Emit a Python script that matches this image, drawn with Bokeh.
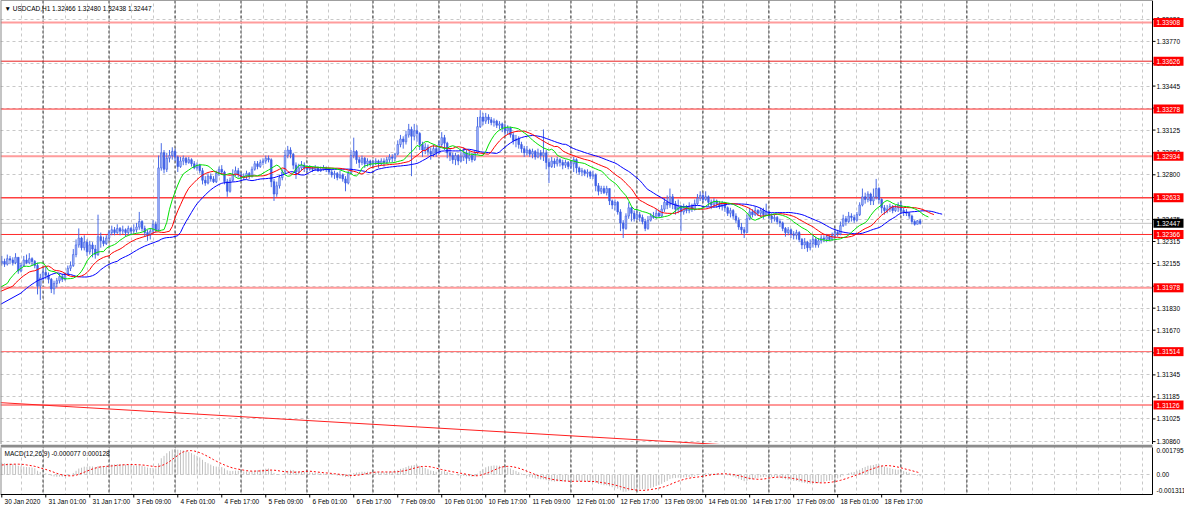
import numpy as np
from bokeh.plotting import figure
from bokeh.models import Range1d, FixedTicker, Span
from bokeh.layouts import column
from bokeh.embed import file_html
from bokeh.resources import INLINE
from bokeh.core.properties import value

# ---------------- data ----------------
symbol_header = "\u25BC USDCAD,H1  1.32466 1.32480 1.32438 1.32447"
macd_header = "MACD(12,26,9) -0.000077 0.000128"

base_price = 1.3
pip = 0.0001
first_open_pips = 216

# H1 bars from 30 Jan 2020 09:00 to 19 Feb 2020 07:00, in pips above 1.30000
close_pips = [
    217, 215, 219, 218, 216, 220, 210, 214, 218, 216,
    219, 217, 214, 199, 205, 209, 207, 204, 197, 201,
    203, 206, 204, 208, 212, 214, 222, 229, 234, 227,
    231, 224, 229, 226, 222, 235, 232, 230, 234, 238,
    240, 238, 241, 239, 240, 238, 241, 239, 240, 242,
    246, 241, 238, 236, 239, 244, 240, 285, 296, 284,
    292, 294, 297, 293, 286, 290, 292, 289, 291, 288,
    285, 287, 283, 276, 274, 279, 277, 275, 281, 284,
    282, 275, 268, 276, 280, 283, 280, 278, 279, 281,
    279, 284, 288, 286, 289, 290, 292, 291, 275, 266,
    272, 278, 282, 294, 298, 295, 287, 282, 285, 287,
    285, 284, 285, 284, 285, 283, 284, 285, 284, 282,
    280, 281, 278, 280, 277, 274, 281, 294, 297, 291,
    289, 292, 288, 290, 288, 289, 290, 288, 290, 289,
    291, 293, 292, 295, 302, 306, 304, 309, 313, 308,
    312, 310, 302, 298, 300, 297, 295, 299, 296, 302,
    307, 303, 296, 294, 291, 294, 290, 293, 296, 292,
    294, 291, 296, 315, 322, 319, 322, 320, 318, 319,
    316, 317, 314, 312, 314, 309, 305, 306, 302, 299,
    296, 298, 295, 297, 293, 296, 294, 296, 289, 286,
    290, 288, 291, 289, 287, 289, 286, 288, 291, 285,
    282, 283, 281, 282, 279, 280, 272, 268, 270, 267,
    270, 261, 258, 260, 253, 245, 241, 250, 256, 252,
    248, 251, 249, 246, 241, 247, 250, 249, 252, 250,
    255, 260, 258, 264, 259, 255, 257, 253, 256, 254,
    257, 255, 259, 263, 265, 262, 264, 260, 258, 261,
    259, 257, 259, 256, 252, 254, 250, 247, 242, 240,
    238, 248, 253, 251, 254, 252, 254, 251, 253, 250,
    248, 249, 246, 245, 241, 238, 240, 237, 236, 238,
    233, 229, 231, 227, 230, 233, 229, 232, 234, 233,
    235, 233, 236, 238, 237, 243, 248, 246, 250, 249,
    247, 251, 258, 264, 262, 266, 261, 264, 270, 262,
    256, 254, 255, 257, 254, 256, 258, 254, 253, 252,
    250, 246, 244, 246.6, 244.7,
]
high_pips = [
    221, 219, 222, 221, 220, 223, 220, 216, 221, 222,
    223, 220, 218, 216, 208, 212, 213, 209, 205, 203,
    205, 208, 208, 209, 214, 217, 226, 233, 241, 235,
    236, 233, 232, 231, 229, 251, 238, 235, 236, 240,
    243, 242, 244, 242, 243, 241, 243, 242, 244, 245,
    253, 247, 243, 240, 241, 247, 246, 294, 303, 298,
    296, 298, 300, 299, 294, 293, 294, 293, 293, 292,
    290, 289, 288, 285, 279, 281, 281, 279, 283, 286,
    287, 283, 277, 278, 284, 286, 285, 282, 281, 283,
    282, 286, 290, 290, 291, 292, 294, 294, 292, 277,
    275, 280, 284, 298, 301, 300, 296, 289, 288, 290,
    289, 287, 287, 286, 287, 286, 286, 287, 286, 285,
    284, 283, 282, 283, 281, 279, 283, 298, 307, 298,
    293, 294, 293, 292, 291, 291, 292, 291, 292, 292,
    293, 295, 295, 296, 305, 309, 308, 312, 317, 315,
    317, 316, 311, 304, 303, 302, 300, 302, 301, 305,
    311, 309, 304, 299, 296, 296, 295, 297, 300, 298,
    298, 296, 298, 322, 327, 325, 325, 324, 322, 321,
    320, 319, 318, 317, 316, 315, 311, 309, 308, 304,
    301, 301, 299, 299, 298, 299, 298, 313, 298, 292,
    293, 292, 293, 292, 291, 291, 290, 290, 293, 292,
    286, 285, 284, 284, 283, 283, 281, 274, 272, 272,
    272, 270, 262, 262, 261, 255, 247, 252, 260, 257,
    254, 255, 253, 251, 248, 250, 252, 253, 255, 254,
    258, 263, 265, 270, 266, 261, 262, 258, 259, 258,
    260, 259, 262, 266, 268, 267, 268, 265, 262, 263,
    262, 261, 261, 260, 257, 256, 255, 252, 249, 245,
    242, 251, 256, 255, 257, 255, 256, 256, 259, 254,
    252, 251, 250, 248, 246, 242, 242, 241, 239, 240,
    239, 234, 234, 232, 233, 236, 235, 234, 236, 236,
    237, 236, 238, 241, 240, 246, 251, 250, 253, 252,
    251, 253, 260, 270, 267, 268, 267, 270, 277, 271,
    263, 258, 258, 259, 258, 258, 260, 260, 256, 255,
    253, 251, 247, 247, 248.0,
]
low_pips = [
    214, 213, 214, 215, 214, 215, 208, 209, 213, 215,
    215, 214, 212, 193, 189, 203, 204, 201, 194, 193,
    198, 201, 202, 203, 207, 210, 213, 220, 227, 225,
    225, 221, 222, 220, 219, 221, 227, 228, 229, 232,
    236, 236, 237, 236, 237, 235, 236, 236, 237, 238,
    240, 239, 235, 232, 233, 237, 238, 239, 283, 281,
    282, 289, 291, 290, 282, 285, 287, 287, 288, 286,
    284, 283, 281, 273, 272, 273, 275, 274, 274, 279,
    280, 273, 264, 267, 275, 279, 278, 276, 276, 277,
    277, 278, 283, 284, 285, 287, 288, 289, 271, 261,
    264, 270, 276, 281, 292, 292, 284, 277, 280, 283,
    282, 282, 283, 282, 283, 282, 282, 283, 282, 280,
    278, 277, 276, 277, 275, 268, 273, 280, 292, 288,
    285, 287, 285, 286, 286, 286, 287, 285, 287, 286,
    288, 289, 289, 290, 294, 300, 299, 302, 307, 279,
    305, 304, 298, 293, 295, 294, 291, 293, 293, 295,
    300, 298, 292, 290, 288, 287, 287, 289, 290, 288,
    290, 289, 290, 295, 314, 316, 317, 317, 316, 315,
    314, 313, 311, 309, 309, 307, 302, 300, 299, 296,
    293, 294, 293, 292, 291, 292, 291, 290, 284, 274,
    285, 285, 286, 286, 284, 285, 284, 284, 282, 281,
    280, 279, 279, 278, 277, 277, 268, 265, 266, 266,
    265, 258, 255, 254, 251, 239, 234, 240, 248, 246,
    246, 247, 246, 244, 239, 240, 246, 248, 248, 249,
    249, 253, 255, 256, 255, 251, 252, 239, 251, 252,
    252, 253, 254, 258, 261, 260, 261, 257, 255, 256,
    256, 255, 254, 253, 250, 249, 248, 245, 240, 237,
    234, 238, 247, 249, 250, 250, 249, 248, 250, 248,
    245, 246, 244, 242, 239, 235, 236, 234, 233, 233,
    231, 226, 226, 224, 225, 227, 227, 227, 230, 231,
    231, 232, 232, 234, 235, 236, 242, 243, 245, 246,
    245, 246, 250, 257, 259, 260, 258, 258, 262, 259,
    252, 251, 252, 253, 252, 253, 253, 252, 250, 250,
    248, 244, 243, 244, 243.8,
]

time_label_bars = [0, 16, 32, 48, 64, 80, 96, 112, 128, 144, 160,
                   176, 192, 208, 224, 240, 256, 272, 288, 304, 320]
time_labels = ["30 Jan 2020", "31 Jan 01:00", "31 Jan 17:00", "3 Feb 09:00",
               "4 Feb 01:00", "4 Feb 17:00", "5 Feb 09:00", "6 Feb 01:00",
               "6 Feb 17:00", "7 Feb 09:00", "10 Feb 01:00", "10 Feb 17:00",
               "11 Feb 09:00", "12 Feb 01:00", "12 Feb 17:00", "13 Feb 09:00",
               "14 Feb 01:00", "14 Feb 17:00", "17 Feb 09:00", "18 Feb 01:00",
               "18 Feb 17:00"]
day_start_bars = [15, 39, 63, 87, 111, 135, 159, 183, 207, 231, 255, 279,
                  303, 327, 351]

level_prices = [1.33908, 1.33626, 1.33278, 1.32934, 1.32633, 1.32366,
                1.31978, 1.31514, 1.31126]
bid_price = 1.32447
price_ticks = [1.33930, 1.33770, 1.33608, 1.33445, 1.33285, 1.33125, 1.32960,
               1.32800, 1.32635, 1.32475, 1.32315, 1.32155, 1.31990, 1.31830,
               1.31670, 1.31505, 1.31345, 1.31185, 1.31025, 1.30860]
macd_tick_values = [0.001795, 0.0, -0.001311]
macd_tick_labels = ["0.001795", "0.00", "-0.001311"]

trend_bars = [-0.47, 261.0]
trend_prices = [1.31143, 1.30839]

# indicator states at the left edge of the window
jaw_left, teeth_left, lips_left = 1.31858, 1.31952, 1.31983
jaw_seed, teeth_seed, lips_seed = 1.31940, 1.31990, 1.32010
ema12_seed, ema26_seed = 1.32110, 1.32030
signal_seed = 0.00062

# ---------------- derived series ----------------
C = base_price + np.array(close_pips, float) * pip
H = base_price + np.array(high_pips, float) * pip
L = base_price + np.array(low_pips, float) * pip
O = np.concatenate([[base_price + first_open_pips * pip], C[:-1]])
H = np.maximum(H, np.maximum(O, C))
L = np.minimum(L, np.minimum(O, C))
n = len(C)
idx = np.arange(n)
median = (H + L) / 2


def smma(seed, period, src):
    out, s = [], seed
    for v in src:
        s = (s * (period - 1) + v) / period
        out.append(s)
    return np.array(out)


def ema(seed, period, src):
    out, s, a = [], seed, 2.0 / (period + 1)
    for v in src:
        s = s + a * (v - s)
        out.append(s)
    return np.array(out)


jaw = smma(jaw_seed, 13, median)
teeth = smma(teeth_seed, 8, median)
lips = smma(lips_seed, 5, median)

macd = ema(ema12_seed, 12, C) - ema(ema26_seed, 26, C)
ext = np.concatenate([[signal_seed] * 8, macd])
signal = np.array([ext[k:k + 9].mean() for k in range(n)])

# ---------------- layout constants ----------------
FONT = value("Liberation Sans")
FS = value("6.5px")
W = 1184
PLOT_W = 1152            # width of the drawing area, the rest is the price scale
MAIN_H = 444
MACD_TOP = 3
MACD_FRAME_H = 47
MACD_BOTTOM = 14
x_lo, x_hi = -0.47, 418.5
y_lo, y_hi = 1.308388, 1.340673
m_lo, m_hi = -0.001311, 0.001795
bpx = (x_hi - x_lo) / PLOT_W                     # bars per pixel
x_end = x_lo + W * bpx
ppx = (y_hi - y_lo) / MAIN_H                     # price per pixel
mpx = (m_hi - m_lo) / MACD_FRAME_H               # macd per pixel
mb_lo = m_lo - MACD_BOTTOM * mpx
mb_hi = m_hi + MACD_TOP * mpx

xr = Range1d(x_lo, x_end)
grid_bars = list(range(7, 419, 8))

LIGHT = "#c8c8c8"
SEP = "#303030"

# ---------------- main price panel ----------------
p = figure(width=W, height=MAIN_H, x_range=xr, y_range=Range1d(y_lo, y_hi),
           output_backend="svg", toolbar_location=None, title=None,
           x_axis_location=None, y_axis_location=None,
           min_border_left=0, min_border_right=0, min_border_top=0,
           min_border_bottom=0, background_fill_color="white",
           border_fill_color="white", outline_line_color=None)
p.xgrid.ticker = FixedTicker(ticks=grid_bars)
p.ygrid.ticker = FixedTicker(ticks=price_ticks)
for g in (p.xgrid, p.ygrid):
    g.grid_line_color = LIGHT
    g.grid_line_dash = "3 3"
    g.grid_line_width = 1

for b in day_start_bars:
    p.add_layout(Span(location=b, dimension="height", line_color=SEP,
                      line_dash="3 2", line_width=1, level="underlay"))

p.add_layout(Span(location=bid_price, dimension="width", line_color="#c4c4c4",
                  line_width=1, level="underlay"))

level_styles = [("#ff9c9c", 2), ("#e82020", 1), ("#ff2a2a", 1), ("#ff9c9c", 2),
                ("#ff4040", 1.5), ("#ff2a2a", 1), ("#ff9c9c", 2), ("#ff6060", 1),
                ("#ff3030", 1)]
for lv, (col, lw) in zip(level_prices, level_styles):
    p.add_layout(Span(location=lv, dimension="width", line_color=col,
                      line_width=lw, level="underlay"))

p.line(trend_bars, trend_prices, line_color="#ff2020", line_width=1)

bull = C >= O
p.segment(x0=idx, y0=L, x1=idx, y1=H, line_color="#4a6be6", line_width=1)
p.vbar(x=idx, top=np.maximum(O, C), bottom=np.minimum(O, C), width=0.6,
       fill_color=np.where(bull, "#a9bbf4", "#3d5ee6").tolist(),
       line_color="#3d5ee6", line_width=0.6)

p.line(np.concatenate([[x_lo, 7], idx + 8]),
       np.concatenate([[jaw_left, jaw_seed], jaw]), line_color="#0000ff",
       line_width=1)
p.line(np.concatenate([[x_lo, 4], idx + 5]),
       np.concatenate([[teeth_left, teeth_seed], teeth]), line_color="#ff0000",
       line_width=1)
p.line(np.concatenate([[x_lo, 2], idx + 3]),
       np.concatenate([[lips_left, lips_seed], lips]), line_color="#00e000",
       line_width=1)

p.text(x=[x_lo + 4 * bpx], y=[y_hi - 8 * ppx], text=[symbol_header],
       text_font=FONT, text_font_size=FS, text_color="black",
       text_align="left", text_baseline="middle")

# price scale, drawn to the right of the drawing area
p.quad(left=[x_hi], right=[x_end], bottom=[y_lo], top=[y_hi],
       fill_color="white", line_color=None)
p.segment(x0=[x_lo, x_lo, x_hi], y0=[y_lo, y_hi, y_lo],
          x1=[x_lo, x_hi, x_hi], y1=[y_hi, y_hi, y_hi],
          line_color=["#8a8a8a", "#404040", "black"], line_width=[2, 1, 1])
p.segment(x0=[x_hi] * len(price_ticks), y0=price_ticks,
          x1=[x_hi + 3 * bpx] * len(price_ticks), y1=price_ticks,
          line_color="black", line_width=1)
p.text(x=[x_hi + 4 * bpx] * len(price_ticks), y=price_ticks,
       text=[f"{t:.5f}" for t in price_ticks], text_font=FONT,
       text_font_size=FS, text_color="black", text_align="left",
       text_baseline="middle")
box_prices = level_prices + [bid_price]
box_colors = ["#ff0000"] * len(level_prices) + ["#000000"]
p.quad(left=[x_hi + 1 * bpx] * len(box_prices),
       right=[x_hi + 31 * bpx] * len(box_prices),
       bottom=[v - 4.5 * ppx for v in box_prices],
       top=[v + 4.5 * ppx for v in box_prices],
       fill_color=box_colors, line_color=None)
p.text(x=[x_hi + 4 * bpx] * len(box_prices), y=box_prices,
       text=[f"{v:.5f}" for v in box_prices], text_font=FONT,
       text_font_size=FS, text_color="white", text_align="left",
       text_baseline="middle")

# ---------------- MACD panel ----------------
m = figure(width=W, height=MACD_TOP + MACD_FRAME_H + MACD_BOTTOM, x_range=xr,
           y_range=Range1d(mb_lo, mb_hi), output_backend="svg",
           toolbar_location=None, title=None, x_axis_location=None,
           y_axis_location=None, min_border_left=0, min_border_right=0,
           min_border_top=0, min_border_bottom=0,
           background_fill_color="white", border_fill_color="white",
           outline_line_color=None)
m.xgrid.ticker = FixedTicker(ticks=grid_bars)
m.ygrid.ticker = FixedTicker(ticks=[0.0])
for g in (m.xgrid, m.ygrid):
    g.grid_line_color = LIGHT
    g.grid_line_dash = "3 3"
for b in day_start_bars:
    m.add_layout(Span(location=b, dimension="height", line_color=SEP,
                      line_dash="3 2", line_width=1, level="underlay"))

m.segment(x0=idx, y0=np.zeros(n), x1=idx, y1=macd, line_color="#c0c0c0",
          line_width=1)
m.line(idx, signal, line_color="#ff0000", line_width=1, line_dash="2 2")
m.text(x=[x_lo + 4 * bpx], y=[m_hi - 6 * mpx], text=[macd_header],
       text_font=FONT, text_font_size=FS, text_color="black",
       text_align="left", text_baseline="middle")

# covers: right scale, time scale below, separator band on top
m.quad(left=[x_hi, x_lo], right=[x_end, x_end], bottom=[mb_lo, mb_lo],
       top=[mb_hi, m_lo], fill_color="white", line_color=None)
m.quad(left=[x_lo], right=[x_hi], bottom=[m_hi], top=[mb_hi],
       fill_color="#8c8c8c", line_color=None)
m.segment(x0=[x_lo, x_lo, x_hi], y0=[m_lo, m_lo, m_lo],
          x1=[x_lo, x_hi, x_hi], y1=[m_hi, m_lo, m_hi],
          line_color=["#8a8a8a", "black", "black"], line_width=[2, 1, 1])
mlab_y = [m_hi - 3 * mpx, 0.0, m_lo + 4 * mpx]
m.text(x=[x_hi + 4 * bpx] * 3, y=mlab_y, text=macd_tick_labels,
       text_font=FONT, text_font_size=FS, text_color="black",
       text_align="left", text_baseline="middle")
m.segment(x0=time_label_bars, y0=[m_lo] * len(time_label_bars),
          x1=time_label_bars, y1=[m_lo - 3 * mpx] * len(time_label_bars),
          line_color="black", line_width=1)
m.text(x=[b + 1.0 for b in time_label_bars],
       y=[m_lo - 7 * mpx] * len(time_label_bars), text=time_labels,
       text_font=FONT, text_font_size=FS, text_color="black",
       text_align="left", text_baseline="middle")

layout = column(p, m, spacing=0)
open("out.html", "w").write(file_html(layout, INLINE))
